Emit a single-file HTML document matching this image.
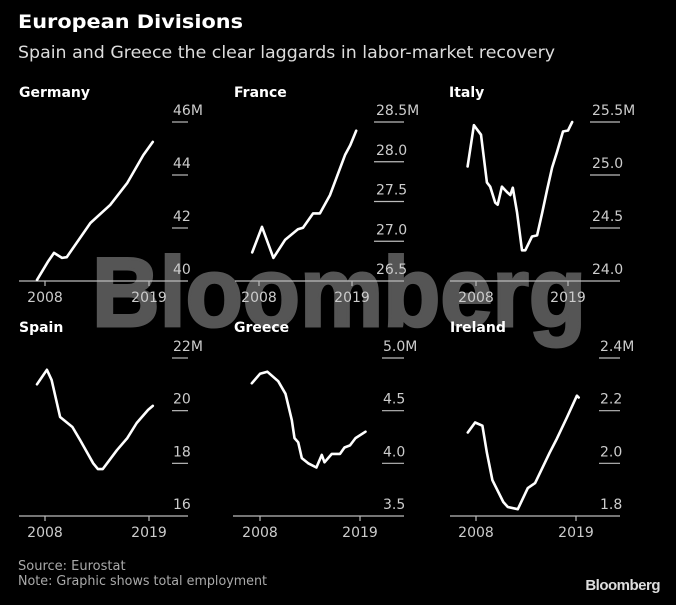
<!DOCTYPE html>
<html><head><meta charset="utf-8">
<style>
html,body{margin:0;padding:0;background:#000;}
body{width:676px;height:600px;overflow:hidden;font-family:"Liberation Sans",sans-serif;}
</style></head>
<body>
<svg id="chart" width="676" height="600" viewBox="0 0 676 600" xmlns="http://www.w3.org/2000/svg">
<rect width="676" height="600" fill="#000"/>
<text x="92" y="326" font-family="Liberation Sans" font-weight="bold" font-size="98" fill="#555" stroke="#555" stroke-width="3" textLength="494" lengthAdjust="spacingAndGlyphs">Bloomberg</text>
<text x="18" y="28" font-family="DejaVu Sans" font-weight="bold" font-size="19" fill="#fff" textLength="225" lengthAdjust="spacingAndGlyphs">European Divisions</text>
<text x="18" y="58" font-family="DejaVu Sans" font-size="17" fill="#ddd" textLength="537" lengthAdjust="spacingAndGlyphs">Spain and Greece the clear laggards in labor-market recovery</text>
<text x="18" y="570" font-family="DejaVu Sans" font-size="13" fill="#aaa">Source: Eurostat</text>
<text x="18" y="585" font-family="DejaVu Sans" font-size="13" fill="#aaa" textLength="249" lengthAdjust="spacingAndGlyphs">Note: Graphic shows total employment</text>
<text x="660" y="590" text-anchor="end" font-family="Liberation Sans" font-weight="bold" font-size="15" fill="#ddd" letter-spacing="-0.5">Bloomberg</text>
<g id="panels"></g>
</svg>
<script>
const germanyYears=[2007.15,2008.3,2008.95,2009.8,2010.3,2012.8,2014.9,2016.7,2018.4,2019.4];
const germanyValues=[40.04,40.72,41.06,40.87,40.9,42.19,42.87,43.7,44.75,45.25];
const franceYears=[2007.2,2008.35,2009.7,2011.1,2012.6,2013.2,2014.4,2015.2,2016.4,2017.2,2018.2,2018.8,2019.5];
const franceValues=[26.86,27.18,26.79,27.02,27.15,27.17,27.35,27.35,27.58,27.81,28.09,28.21,28.39];
const italyYears=[2007.0,2007.75,2008.6,2009.3,2009.7,2010.3,2010.6,2011.1,2011.7,2012.1,2012.4,2012.9,2013.5,2013.9,2014.7,2015.3,2015.9,2016.5,2017.1,2017.7,2018.4,2019.0,2019.5];
const italyValues=[25.08,25.47,25.38,24.93,24.89,24.74,24.72,24.89,24.84,24.81,24.88,24.65,24.29,24.29,24.42,24.43,24.64,24.86,25.07,25.22,25.41,25.42,25.5];
const spainYears=[2007.15,2008.2,2008.7,2009.6,2010.9,2011.7,2013.1,2013.6,2014.1,2015.6,2016.7,2017.7,2018.9,2019.4];
const spainValues=[21.0,21.55,21.17,19.76,19.38,18.89,18.0,17.78,17.78,18.5,18.96,19.53,20.03,20.18];
const greeceYears=[2007.1,2008,2008.8,2010,2010.8,2011.5,2011.8,2012.2,2012.6,2013.3,2014.2,2014.8,2015.1,2015.9,2016.8,2017.3,2017.9,2018.5,2019.6];
const greeceValues=[4.76,4.85,4.87,4.78,4.66,4.41,4.24,4.2,4.05,4.0,3.96,4.08,4.01,4.09,4.09,4.15,4.17,4.24,4.3];
const irelandYears=[2007.1,2007.9,2008.7,2009.2,2009.8,2011.0,2011.5,2012.6,2013.7,2014.5,2016.1,2016.9,2018.0,2019.1,2019.3];
const irelandValues=[2.117,2.155,2.143,2.04,1.936,1.853,1.834,1.826,1.906,1.925,2.04,2.094,2.174,2.257,2.25];
const germanyTicks=["40","42","44","46M"];
const franceTicks=["26.5","27.0","27.5","28.0","28.5M"];
const italyTicks=["24.0","24.5","25.0","25.5M"];
const spainTicks=["16","18","20","22M"];
const greeceTicks=["3.5","4.0","4.5","5.0M"];
const irelandTicks=["1.8","2.0","2.2","2.4M"];
const yearTicks=[2008,2019];

const NS="http://www.w3.org/2000/svg";
const root=document.getElementById('panels');
function mk(tag,attrs,parent){const e=document.createElementNS(NS,tag);for(const k in attrs)e.setAttribute(k,attrs[k]);parent.appendChild(e);return e;}
const panels=[
 {name:'germany',title:'Germany',years:germanyYears,vals:germanyValues,ticks:germanyTicks,min:40,max:46,x0:19,x1:188,t8:45,t19:149,lab:173,tl0:172,ty:92,top:122,bot:281,tx:19},
 {name:'france',title:'France',years:franceYears,vals:franceValues,ticks:franceTicks,min:26.5,max:28.5,x0:235,x1:404,t8:259,t19:352,lab:376,tl0:374,ty:92,top:122,bot:281,tx:234},
 {name:'italy',title:'Italy',years:italyYears,vals:italyValues,ticks:italyTicks,min:24,max:25.5,x0:450,x1:620,t8:476,t19:568,lab:592,tl0:590,ty:92,top:122,bot:281,tx:449},
 {name:'spain',title:'Spain',years:spainYears,vals:spainValues,ticks:spainTicks,min:16,max:22,x0:19,x1:188,t8:45,t19:149,lab:173,tl0:172,ty:327,top:358,bot:516,tx:19},
 {name:'greece',title:'Greece',years:greeceYears,vals:greeceValues,ticks:greeceTicks,min:3.5,max:5.0,x0:233,x1:404,t8:260,t19:360,lab:383,tl0:382,ty:327,top:358,bot:516,tx:234},
 {name:'ireland',title:'Ireland',years:irelandYears,vals:irelandValues,ticks:irelandTicks,min:1.8,max:2.4,x0:450,x1:620,t8:476,t19:576,lab:600,tl0:599,ty:327,top:358,bot:516,tx:450}
];
panels.forEach(p=>{
 const g=mk('g',{},root);
 
 
 const xs=y=>p.t8+(y-2008)*(p.t19-p.t8)/11;
 const ys=v=>p.bot-(v-p.min)/(p.max-p.min)*(p.bot-p.top);
 const t=mk('text',{x:p.tx,y:p.ty+5,'font-family':'DejaVu Sans','font-weight':'bold','font-size':14,fill:'#fff'},g);
 t.textContent=p.title;
 
 
 const n=p.ticks.length;
 p.ticks.forEach((lbl,i)=>{
  const y=p.bot-i*(p.bot-p.top)/(n-1);
  if(i>0){const l=mk('line',{x1:p.tl0,x2:p.x1,y1:y,y2:y,stroke:'#bbb','stroke-width':1.2},g);
   
   }
  const tx=mk('text',{x:p.lab,y:y-7,'font-family':'DejaVu Sans','font-size':14,fill:'#ccc'},g);
  tx.textContent=lbl;
  
  
 });
 const ax=mk('line',{x1:p.x0,x2:p.x1,y1:p.bot,y2:p.bot,stroke:'#bbb','stroke-width':1.2},g);
 
 
 yearTicks.forEach(yr=>{
  const x=xs(yr);
  const tk=mk('line',{x1:x,x2:x,y1:p.bot,y2:p.bot+5,stroke:'#bbb','stroke-width':1.2},g);
  
  
  const tl=mk('text',{x:x,y:p.bot+21,'text-anchor':'middle','font-family':'DejaVu Sans','font-size':14,fill:'#ccc'},g);
  tl.textContent=yr;
  
  
 });
 const d=p.years.map((yr,i)=>(i?'L':'M')+xs(yr).toFixed(1)+','+ys(p.vals[i]).toFixed(1)).join(' ');
 const path=mk('path',{d:d,fill:'none',stroke:'#fff','stroke-width':2.6,'stroke-linejoin':'round','stroke-linecap':'round'},g);
 
 
});
</script>
</body></html>
